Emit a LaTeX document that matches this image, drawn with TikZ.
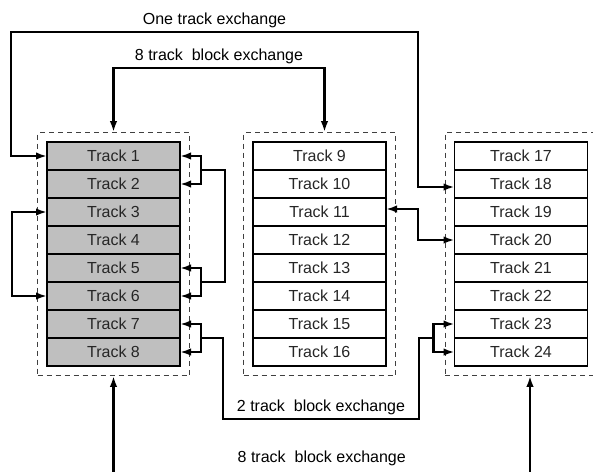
\documentclass[tikz,border=0pt]{standalone}
\usepackage{fontspec}
\setmainfont{Liberation Sans}
\usetikzlibrary{arrows.meta,positioning,fit,calc}

\begin{document}
\begin{tikzpicture}[x=1pt, y=-1pt, font=\fontsize{16}{18}\selectfont,
  >={Latex[length=11pt,width=7.5pt]},
  trk/.style={draw, line width=1.1pt, minimum width=133pt, minimum height=28pt,
              inner sep=0pt, outer sep=0pt, text=black!85},
  grey/.style={trk, fill=black!25},
  frame/.style={draw=black!75, line width=0.8pt, dash pattern=on 5pt off 4pt,
                inner sep=9.5pt},
  conn/.style={line width=2.4pt}]
\useasboundingbox (0,0) rectangle (593,471);

% block A
\node[grey] (t1) at (113.5,156) {Track 1};
\node[grey, below=0pt of t1] (t2) {Track 2};
\node[grey, below=0pt of t2] (t3) {Track 3};
\node[grey, below=0pt of t3] (t4) {Track 4};
\node[grey, below=0pt of t4] (t5) {Track 5};
\node[grey, below=0pt of t5] (t6) {Track 6};
\node[grey, below=0pt of t6] (t7) {Track 7};
\node[grey, below=0pt of t7] (t8) {Track 8};

% block B
\node[trk] (t9) at (319.5,156) {Track 9};
\node[trk, below=0pt of t9]  (t10) {Track 10};
\node[trk, below=0pt of t10] (t11) {Track 11};
\node[trk, below=0pt of t11] (t12) {Track 12};
\node[trk, below=0pt of t12] (t13) {Track 13};
\node[trk, below=0pt of t13] (t14) {Track 14};
\node[trk, below=0pt of t14] (t15) {Track 15};
\node[trk, below=0pt of t15] (t16) {Track 16};

% block C
\node[trk] (t17) at (521,156) {Track 17};
\node[trk, below=0pt of t17] (t18) {Track 18};
\node[trk, below=0pt of t18] (t19) {Track 19};
\node[trk, below=0pt of t19] (t20) {Track 20};
\node[trk, below=0pt of t20] (t21) {Track 21};
\node[trk, below=0pt of t21] (t22) {Track 22};
\node[trk, below=0pt of t22] (t23) {Track 23};
\node[trk, below=0pt of t23] (t24) {Track 24};

\node[frame, fit=(t1)(t8)]   (fA) {};
\node[frame, fit=(t9)(t16)]  (fB) {};
\node[frame, fit=(t17)(t24)] (fC) {};

% Hilfspunkte
\coordinate (otL)  at (11,32);
\coordinate (otR)  at (418,32);
\coordinate (top8) at (0,68);
\coordinate (bR)   at (530,472.8);
\coordinate (low2) at (419,419);
\coordinate (jP) at ($(t1.east)!0.5!(t2.east)+(21,0)$);
\coordinate (jQ) at ($(t5.east)!0.5!(t6.east)+(21,0)$);
\coordinate (jA) at ($(t7.east)!0.5!(t8.east)+(21,0)$);
\coordinate (jB) at ($(t23.west)!0.5!(t24.west)+(-21,0)$);

% one track
\draw[conn,<->] (t1.west) -| (otL) -- node[above]{One track exchange} (otR)
  |- ([yshift=-3pt]t18.west);
\draw[conn,<->] ([yshift=3pt]t11.east) -- ([yshift=3pt]t11.east -| otR) |- (t20.west);
\draw[conn,<->] (t3.west) -- ++(-35,0) |- (t6.west);
\draw[conn,->] (jP) |- (t1.east);
\draw[conn,->] (jP) |- (t2.east);
\draw[conn,->] (jQ) |- (t5.east);
\draw[conn,->] (jQ) |- (t6.east);
\draw[conn] (jP) -- ++(24,0) |- (jQ);

% block exchange
\draw[conn,<->] (fA.north) -- (fA.north |- top8)
  -- node[above]{8 track\ \ block exchange} ([xshift=5pt]fB.north |- top8)
  -- ([xshift=5pt]fB.north);
\draw[conn,->] (jA) |- (t7.east);
\draw[conn,->] (jA) |- (t8.east);
\draw[conn,->] (jB) |- (t23.west);
\draw[conn,->] (jB) |- (t24.west);
\draw[conn] (jA) -- ++(22,0) |- node[pos=0.75,above]{2 track\ \ block exchange} (low2)
  |- (jB);
\draw[conn,<->] (fA.south) |- node[pos=0.75,above=2pt]{8 track\ \ block exchange} (bR)
  -- (bR |- fC.south);
\end{tikzpicture}
\end{document}
